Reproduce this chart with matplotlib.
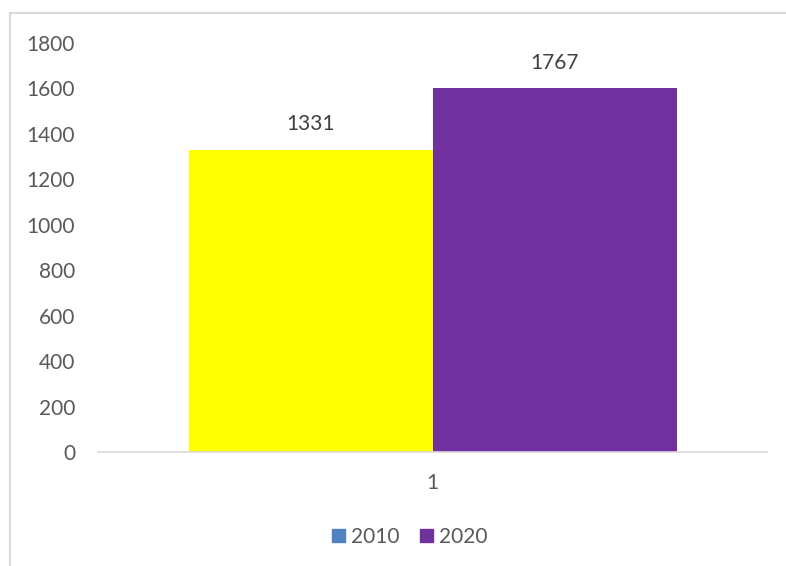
import matplotlib.pyplot as plt
from matplotlib.patches import Rectangle, Patch

# data
series = ["2010", "2020"]
values = [1331, 1602]
label_texts = ["1331", "1767"]
bar_colors = ["#FFFF00", "#7030A0"]
legend_colors = ["#4F81BD", "#7030A0"]
category = "1"

plt.rcParams['font.family'] = ['Lato', 'DejaVu Sans']
grey = "#595959"

fig = plt.figure(figsize=(7.86, 5.66), dpi=100)
ax = fig.add_axes([98 / 786, 114 / 566, 669 / 786, 409 / 566])

w = 244 / 669
offsets = [-w / 2, w / 2]
for off, v, c, txt in zip(offsets, values, bar_colors, label_texts):
    ax.bar(off, v, width=w, color=c)
    ax.annotate(txt, (off, v), xytext=(0, 11), textcoords="offset points",
                ha="center", va="bottom", fontsize=15, color="#404040")

ax.set_xlim(-0.5, 0.5)
ax.set_ylim(0, 1800)
ax.set_yticks(range(0, 1801, 200))
ax.set_xticks([0])
ax.set_xticklabels([category])
ax.tick_params(axis="both", length=0, labelsize=15, labelcolor=grey)
ax.tick_params(axis="y", pad=16.5)
ax.tick_params(axis="x", pad=15)
for s in ["top", "right", "left"]:
    ax.spines[s].set_visible(False)
ax.spines["bottom"].set_color("#d9d9d9")
ax.spines["bottom"].set_linewidth(1.2)

handles = [Patch(color=c) for c in legend_colors]
fig.legend(handles, series, loc="center", bbox_to_anchor=(410 / 786, 1 - 537 / 566),
           ncol=2, frameon=False, fontsize=15, labelcolor=grey,
           handlelength=0.6, handleheight=0.6, handletextpad=0.3, columnspacing=1.0)

# chart frame
fig.patches.append(Rectangle((10 / 786, -0.1), 1.0, 1 - 13 / 566 + 0.1,
                             transform=fig.transFigure, fill=False,
                             edgecolor="#d9d9d9", linewidth=1.5))

fig.savefig("out.png", dpi=100)
